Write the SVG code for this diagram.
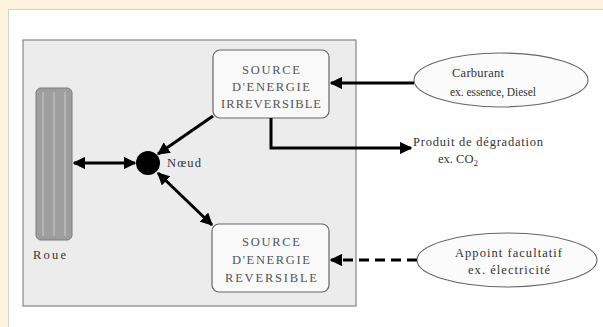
<svg xmlns="http://www.w3.org/2000/svg" width="603" height="327" viewBox="0 0 603 327">
<defs>
<style>
.t{font-family:"Liberation Serif",serif;font-size:12.5px;fill:#333}
.cap{font-family:"Liberation Serif",serif;font-size:12.5px;fill:#555;text-anchor:middle}
.box{fill:#f9f9f9;stroke:#666;stroke-width:1.2}
.ell{fill:#fbfbfb;stroke:#666;stroke-width:1.1}
.ln{stroke:#000;stroke-width:3;fill:none}
</style>
<marker id="ah" viewBox="0 0 10 10" refX="9" refY="5" markerWidth="4.2" markerHeight="4.2" orient="auto-start-reverse" markerUnits="strokeWidth">
<path d="M0,0 L10,5 L0,10 z" fill="#000"/>
</marker>
</defs>
<rect x="0" y="0" width="603" height="327" fill="#fdf3dc"/>
<rect x="8.5" y="9.5" width="600" height="320" fill="#ffffff" stroke="#c8d3e0" stroke-width="1"/>
<g id="panel">
<rect x="23" y="40" width="333" height="266" fill="#ececec" stroke="#888" stroke-width="1.2"/>
</g>
<g id="roue">
<rect x="36" y="88" width="36" height="152" rx="5" fill="#9e9e9e" stroke="#7a7a7a" stroke-width="1"/>
<line x1="43" y1="92" x2="43" y2="236" stroke="#c4c4c4" stroke-width="1.2"/>
<line x1="54" y1="92" x2="54" y2="236" stroke="#c4c4c4" stroke-width="1.2"/>
<line x1="65" y1="92" x2="65" y2="236" stroke="#c4c4c4" stroke-width="1.2"/>
<text class="t" x="33" y="259" style="font-size:12.5px" textLength="33">Roue</text>
</g>
<g id="noeud">
<circle cx="148" cy="163" r="12" fill="#000"/>
<text class="t" x="167" y="167" textLength="34">Nœud</text>
</g>
<g id="source-irreversible">
<rect class="box" x="213" y="50" width="116" height="68" rx="7"/>
<text class="cap" x="271" y="74" textLength="58">SOURCE</text>
<text class="cap" x="271" y="91" textLength="78">D'ENERGIE</text>
<text class="cap" x="271" y="108" textLength="100">IRREVERSIBLE</text>
</g>
<g id="source-reversible">
<rect class="box" x="212" y="224" width="117" height="68" rx="7"/>
<text class="cap" x="271" y="246" textLength="58">SOURCE</text>
<text class="cap" x="271" y="264" textLength="78">D'ENERGIE</text>
<text class="cap" x="271" y="282" textLength="92">REVERSIBLE</text>
</g>
<g id="carburant">
<ellipse class="ell" cx="501" cy="80" rx="87" ry="27"/>
<text class="t" x="452" y="77" textLength="52">Carburant</text>
<text class="t" x="450" y="96" style="font-size:11.5px" textLength="86">ex. essence, Diesel</text>
</g>
<g id="appoint">
<ellipse class="ell" cx="507" cy="260" rx="90" ry="27"/>
<text class="t" x="455" y="257" textLength="107">Appoint facultatif</text>
<text class="t" x="468" y="274" textLength="82">ex. électricité</text>
</g>
<g id="produit">
<text class="t" x="413" y="146" textLength="130">Produit de dégradation</text>
<text class="t" x="438" y="163">ex. CO<tspan style="font-size:9px" dy="3">2</tspan></text>
</g>
<g id="connectors">
<line class="ln" x1="414" y1="83" x2="331" y2="83" marker-end="url(#ah)"/>
<polyline class="ln" points="271,118 271,148 411,148" marker-end="url(#ah)"/>
<line class="ln" x1="417" y1="260" x2="331" y2="260" stroke-dasharray="10,6" marker-end="url(#ah)"/>
<line class="ln" x1="213" y1="116" x2="158" y2="154" marker-end="url(#ah)"/>
<line class="ln" x1="158" y1="173" x2="212" y2="225" marker-start="url(#ah)" marker-end="url(#ah)"/>
<line class="ln" x1="74" y1="163" x2="135" y2="163" marker-start="url(#ah)" marker-end="url(#ah)"/>
</g>
</svg>
